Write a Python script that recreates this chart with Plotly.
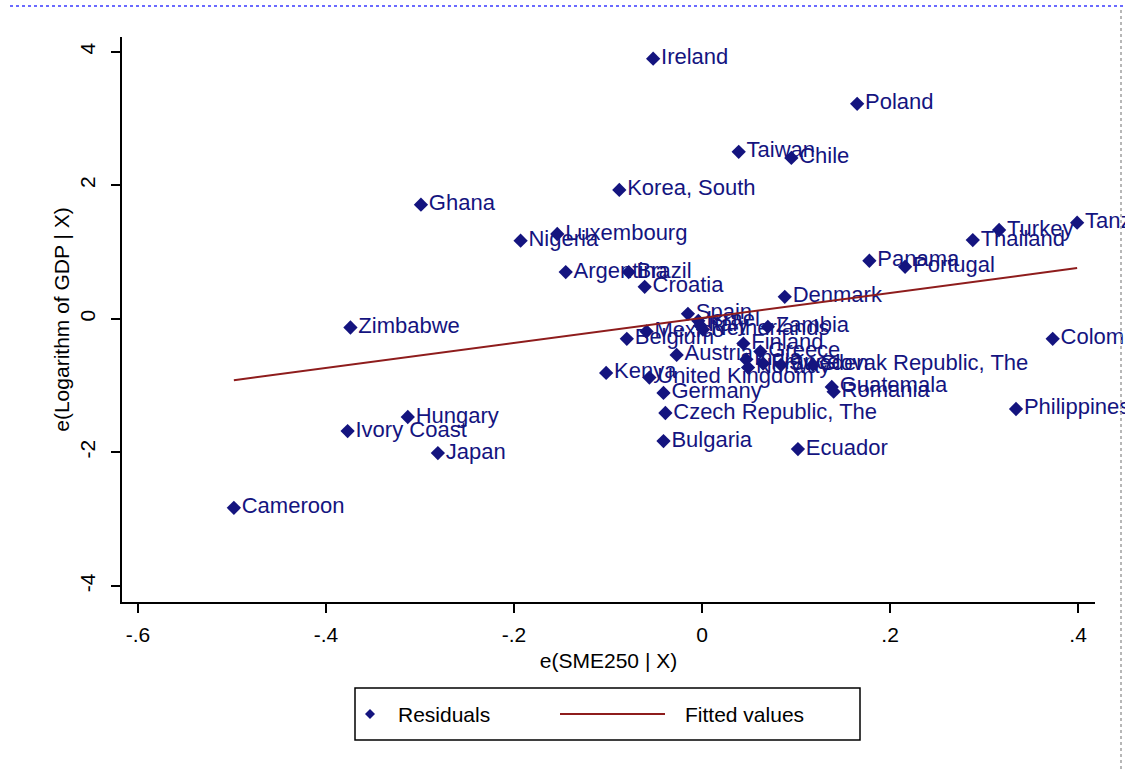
import plotly.graph_objects as go

countries = [
    "Ireland", "Poland", "Taiwan", "Chile", "Korea, South", "Ghana", "Luxembourg",
    "Nigeria", "Argentina", "Brazil", "Croatia", "Turkey", "Thailand", "Tanzania",
    "Panama", "Portugal", "Denmark", "Colombia", "Philippines", "Zimbabwe", "Hungary",
    "Ivory Coast", "Japan", "Cameroon", "Kenya", "Belgium", "Mexico", "Spain", "Israel",
    "Italy", "Netherlands", "Zambia", "Finland", "Greece", "Austria", "India", "Norway",
    "France", "Sweden", "Slovak Republic, The", "United Kingdom", "Germany",
    "Czech Republic, The", "Bulgaria", "Ecuador", "Guatemala", "Romania",
]
x_resid = [
    -0.052, 0.165, 0.039, 0.095, -0.088, -0.299, -0.154,
    -0.193, -0.145, -0.078, -0.061, 0.316, 0.288, 0.399,
    0.178, 0.216, 0.088, 0.373, 0.334, -0.374, -0.313,
    -0.377, -0.281, -0.498, -0.102, -0.080, -0.059, -0.015, -0.004,
    -0.002, 0.001, 0.070, 0.044, 0.062, -0.027, 0.047, 0.049,
    0.065, 0.084, 0.118, -0.056, -0.041,
    -0.039, -0.041, 0.102, 0.138, 0.140,
]
y_resid = [
    3.895, 3.22, 2.50, 2.41, 1.93, 1.71, 1.27,
    1.17, 0.70, 0.70, 0.48, 1.33, 1.18, 1.44,
    0.87, 0.78, 0.33, -0.30, -1.35, -0.13, -1.47,
    -1.68, -2.01, -2.83, -0.81, -0.30, -0.19, 0.075, -0.03,
    -0.10, -0.16, -0.12, -0.37, -0.49, -0.54, -0.61, -0.73,
    -0.67, -0.69, -0.69, -0.88, -1.11,
    -1.41, -1.83, -1.95, -1.02, -1.09,
]
fit_x = [-0.498, 0.399]
fit_y = [-0.92, 0.76]

x_ticks = [-0.6, -0.4, -0.2, 0, 0.2, 0.4]
x_tick_labels = ["-.6", "-.4", "-.2", "0", ".2", ".4"]
y_ticks = [-4, -2, 0, 2, 4]
y_tick_labels = ["-4", "-2", "0", "2", "4"]
legend_labels = ["Residuals", "Fitted values"]

NAVY = "#14147f"
MAROON = "#8e1c1c"
FONT = "Liberation Sans, Arial, sans-serif"

fig = go.Figure()
fig.add_trace(go.Scatter(
    x=x_resid, y=y_resid, mode="markers+text", name=legend_labels[0],
    text=countries, textposition="middle right", cliponaxis=False,
    textfont=dict(family=FONT, size=22, color=NAVY),
    marker=dict(symbol="diamond", size=11, color=NAVY),
))
fig.add_trace(go.Scatter(
    x=fit_x, y=fit_y, mode="lines", name=legend_labels[1],
    line=dict(color=MAROON, width=2),
))

W, H = 1125, 771
L, R, T, B = 122, 30, 37, 169
pw, ph = W - L - R, H - T - B


def px(xp):
    return (xp - L) / pw


def py(yp):
    return (H - B - yp) / ph


# Legend box drawn in the Stata style (key glyphs + labels inside a framed box)
lg_y = 714
d = 5
legend_shapes = [
    dict(type="rect", xref="paper", yref="paper", x0=px(355), x1=px(860),
         y0=py(740), y1=py(688), line=dict(color="black", width=1.5), fillcolor="white"),
    dict(type="path", xref="paper", yref="paper",
         path=(f"M {px(370 - d)},{py(lg_y)} L {px(370)},{py(lg_y - d)} "
               f"L {px(370 + d)},{py(lg_y)} L {px(370)},{py(lg_y + d)} Z"),
         fillcolor=NAVY, line=dict(color=NAVY, width=0)),
    dict(type="line", xref="paper", yref="paper", x0=px(560), x1=px(665),
         y0=py(lg_y), y1=py(lg_y), line=dict(color=MAROON, width=2)),
]
legend_annots = [
    dict(text=legend_labels[0], xref="paper", yref="paper", x=px(396), y=py(lg_y),
         xanchor="left", yanchor="middle", showarrow=False, font=dict(size=21, color="black")),
    dict(text=legend_labels[1], xref="paper", yref="paper", x=px(683), y=py(lg_y),
         xanchor="left", yanchor="middle", showarrow=False, font=dict(size=21, color="black")),
]

fig.update_layout(
    width=W, height=H,
    margin=dict(l=L, r=R, t=T, b=B),
    paper_bgcolor="white", plot_bgcolor="white",
    font=dict(family=FONT, size=20, color="black"),
    showlegend=False,
    xaxis=dict(
        range=[-0.617, 0.418], tickvals=x_ticks, ticktext=x_tick_labels,
        showgrid=False, zeroline=False, showline=True, linecolor="black", linewidth=2,
        ticks="outside", ticklen=9, tickwidth=2, tickcolor="black",
        tickfont=dict(size=21), ticklabelstandoff=4, automargin=False,
        title=dict(text="e(SME250 | X)", font=dict(size=21), standoff=8),
    ),
    yaxis=dict(
        range=[-4.24, 4.22], tickvals=y_ticks, ticktext=y_tick_labels,
        showgrid=False, zeroline=False, showline=True, linecolor="black", linewidth=2,
        ticks="outside", ticklen=9, tickwidth=2, tickcolor="black",
        tickangle=-90, tickfont=dict(size=21), ticklabelstandoff=8, automargin=False,
        title=dict(text="e(Logarithm of GDP | X)", font=dict(size=21), standoff=0),
    ),
    shapes=[
        dict(type="line", xref="paper", yref="paper", x0=px(10), x1=px(1125),
             y0=py(6), y1=py(6), line=dict(color="#3a3aff", width=1.5, dash="dot")),
        dict(type="line", xref="paper", yref="paper", x0=px(1121), x1=px(1121),
             y0=py(10), y1=py(771), line=dict(color="#a0a0a0", width=1.5, dash="dot")),
    ] + legend_shapes,
    annotations=legend_annots,
)

fig.write_html(
    "out.html",
    config={"displayModeBar": False},
    post_script="document.body.style.margin='0';document.body.style.overflow='hidden';",
)
